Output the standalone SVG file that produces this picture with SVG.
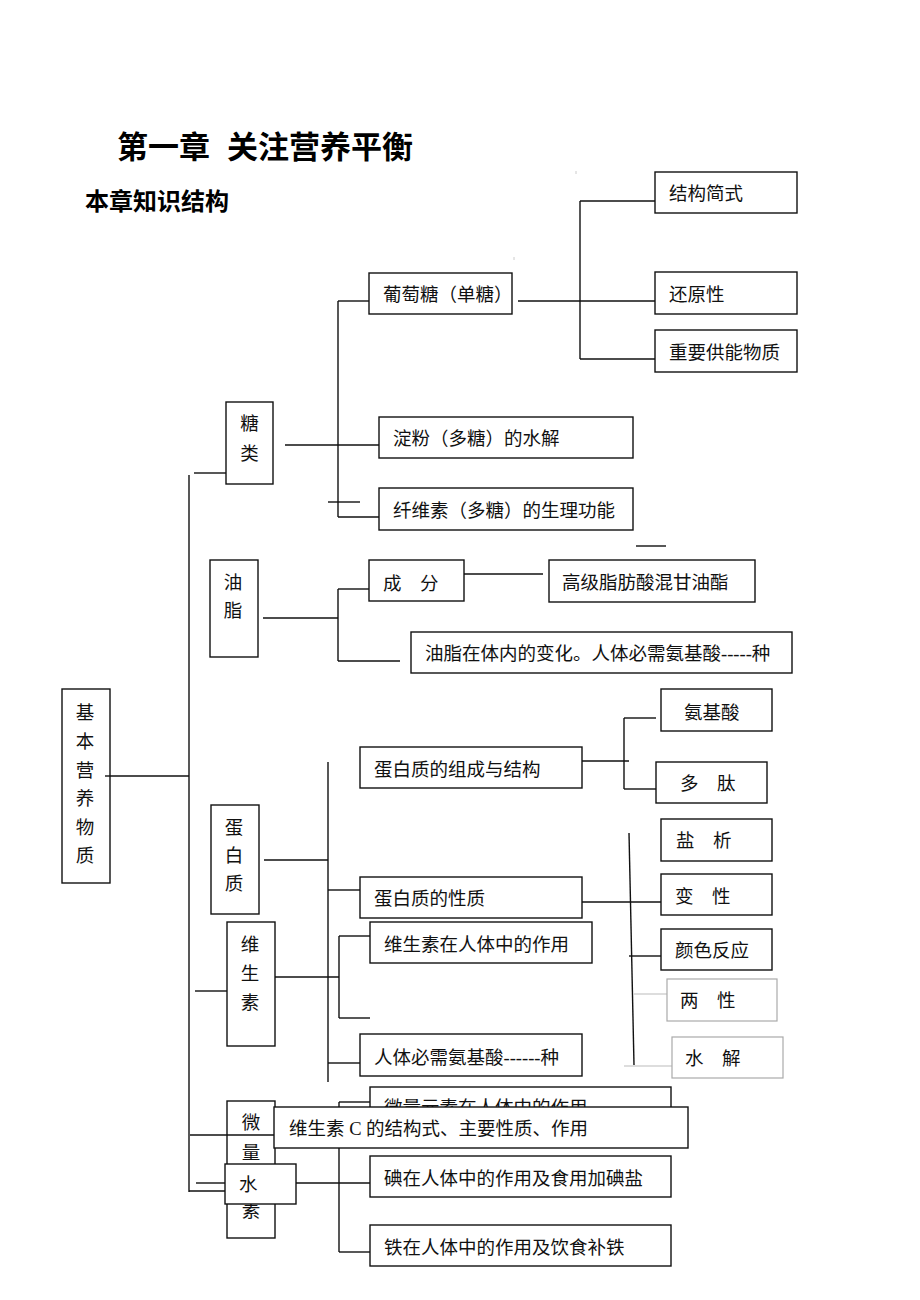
<svg xmlns="http://www.w3.org/2000/svg" width="920" height="1300" viewBox="0 0 920 1300">
<style>
.b{fill:#fff;stroke:#111;stroke-width:1.4}
.bn{fill:none;stroke:#111;stroke-width:1.4}
.bg{fill:#fff;stroke:#aaa;stroke-width:1.2}
.t{font-family:"Liberation Serif","Noto Sans CJK SC",serif;font-size:18.5px;fill:#111}
.tm{font-family:"Liberation Serif","Noto Sans CJK SC",serif;font-size:18.5px;fill:#111;text-anchor:middle}
.h1{font-family:"Liberation Sans","Noto Sans CJK SC",sans-serif;font-size:31px;font-weight:bold;fill:#000}
.h2{font-family:"Liberation Sans","Noto Sans CJK SC",sans-serif;font-size:24px;font-weight:bold;fill:#000}
#connectors line{stroke:#111;stroke-width:1.4}
#connectors line.g{stroke:#bbb;stroke-width:1.2}
</style>
<rect width="920" height="1300" fill="#fff"/>
<g id="title">
<text class="h1" y="158"><tspan x="117">第一章</tspan><tspan x="227">关注营养平衡</tspan></text>
<text class="h2" x="85" y="210">本章知识结构</text>
</g>
<g id="marks">
<line x1="576" y1="171" x2="576" y2="174" stroke="#ccc" stroke-width="1"/>
<line x1="514" y1="257" x2="514" y2="260" stroke="#ccc" stroke-width="1"/>
</g>
<g id="connectors">
<line x1="189" y1="475" x2="189" y2="1192"/>
<line x1="194" y1="473" x2="226" y2="473"/>
<line x1="105" y1="776" x2="189" y2="776"/>
<line x1="285" y1="445" x2="379" y2="445"/>
<line x1="338" y1="301" x2="338" y2="517"/>
<line x1="338" y1="301" x2="369" y2="301"/>
<line x1="338" y1="517" x2="379" y2="517"/>
<line x1="328" y1="502" x2="360" y2="502"/>
<line x1="518" y1="301" x2="655" y2="301"/>
<line x1="580" y1="201" x2="580" y2="359"/>
<line x1="580" y1="201" x2="655" y2="201"/>
<line x1="580" y1="359" x2="655" y2="359"/>
<line x1="636" y1="546" x2="666" y2="546"/>
<line x1="263" y1="618" x2="338" y2="618"/>
<line x1="338" y1="589" x2="338" y2="661"/>
<line x1="338" y1="589" x2="369" y2="589"/>
<line x1="338" y1="661" x2="400" y2="661"/>
<line x1="464" y1="574" x2="543" y2="574"/>
<line x1="582" y1="761" x2="629" y2="761"/>
<line x1="624" y1="718" x2="624" y2="789"/>
<line x1="624" y1="718" x2="656" y2="718"/>
<line x1="624" y1="789" x2="656" y2="789"/>
<line x1="328" y1="762" x2="328" y2="1082"/>
<line x1="264" y1="860" x2="328" y2="860"/>
<line x1="328" y1="890" x2="360" y2="890"/>
<line x1="328" y1="1063" x2="360" y2="1063"/>
<line x1="582" y1="902" x2="661" y2="902"/>
<line x1="629" y1="833" x2="634" y2="1065"/>
<line x1="629" y1="956" x2="661" y2="956"/>
<line class="g" x1="634" y1="994" x2="667" y2="994"/>
<line class="g" x1="624" y1="1066" x2="672" y2="1066"/>
<line x1="275" y1="977" x2="339" y2="977"/>
<line x1="339" y1="936" x2="339" y2="1018"/>
<line x1="339" y1="936" x2="370" y2="936"/>
<line x1="339" y1="1018" x2="370" y2="1018"/>
<line x1="195" y1="991" x2="227" y2="991"/>
<line x1="339" y1="1102" x2="339" y2="1252"/>
<line x1="339" y1="1102" x2="370" y2="1102"/>
<line x1="339" y1="1252" x2="370" y2="1252"/>
<line x1="190" y1="1135" x2="275" y2="1135"/>
<line x1="296" y1="1183" x2="370" y2="1183"/>
<line x1="196" y1="1183" x2="225" y2="1183"/>
<line x1="189" y1="1191" x2="225" y2="1191"/>
</g>
<g id="n-jgjs"><rect class="b" x="655" y="172" width="142" height="41"/><text class="t" x="669" y="200">结构简式</text></g>
<g id="n-hyx"><rect class="b" x="655" y="272" width="142" height="42"/><text class="t" x="669" y="301">还原性</text></g>
<g id="n-zygn"><rect class="b" x="655" y="330" width="142" height="42"/><text class="t" x="669" y="359">重要供能物质</text></g>
<g id="n-ptt"><rect class="b" x="369" y="273" width="143" height="41"/><text class="t" x="383" y="301">葡萄糖（单糖）</text></g>
<g id="n-df"><rect class="b" x="379" y="417" width="254" height="41"/><text class="t" x="393" y="445">淀粉（多糖）的水解</text></g>
<g id="n-xws"><rect class="b" x="379" y="488" width="254" height="42"/><text class="t" x="393" y="517">纤维素（多糖）的生理功能</text></g>
<g id="n-tl"><rect class="b" x="226" y="402" width="47" height="82"/><text class="tm"><tspan x="249.5" y="430">糖</tspan><tspan x="249.5" y="460">类</tspan></text></g>
<g id="n-yz"><rect class="b" x="210" y="560" width="48" height="97"/><text class="tm"><tspan x="233" y="589">油</tspan><tspan x="233" y="617">脂</tspan></text></g>
<g id="n-cf"><rect class="b" x="369" y="560" width="95" height="41"/><text class="t" x="383" y="590">成　分</text></g>
<g id="n-gjzf"><rect class="b" x="549" y="560" width="206" height="42"/><text class="t" x="562" y="589">高级脂肪酸混甘油酯</text></g>
<g id="n-yztn"><rect class="b" x="411" y="632" width="381" height="41"/><text class="t" x="425" y="660">油脂在体内的变化。人体必需氨基酸-----种</text></g>
<g id="n-ajs"><rect class="b" x="661" y="689" width="111" height="42"/><text class="t" x="684" y="719">氨基酸</text></g>
<g id="n-dbzzc"><rect class="b" x="360" y="747" width="222" height="41"/><text class="t" x="374" y="776">蛋白质的组成与结构</text></g>
<g id="n-dt"><rect class="b" x="656" y="762" width="111" height="41"/><text class="t" x="680" y="790">多　肽</text></g>
<g id="n-jbyy"><rect class="b" x="62" y="689" width="48" height="194"/><text class="tm"><tspan x="85" y="719">基</tspan><tspan x="85" y="748">本</tspan><tspan x="85" y="777">营</tspan><tspan x="85" y="805">养</tspan><tspan x="85" y="834">物</tspan><tspan x="85" y="862">质</tspan></text></g>
<line x1="105" y1="776" x2="110" y2="776" stroke="#111" stroke-width="1.4"/>
<g id="n-dbz"><rect class="b" x="211" y="805" width="48" height="109"/><text class="tm"><tspan x="234" y="834">蛋</tspan><tspan x="234" y="862">白</tspan><tspan x="234" y="890">质</tspan></text></g>
<g id="n-yx"><rect class="b" x="661" y="819" width="111" height="42"/><text class="t" x="676" y="847">盐　析</text></g>
<g id="n-dbzxz"><rect class="b" x="360" y="877" width="222" height="41"/><text class="t" x="374" y="905">蛋白质的性质</text></g>
<g id="n-bx"><rect class="b" x="661" y="874" width="111" height="41"/><text class="t" x="675" y="903">变　性</text></g>
<g id="n-yssy"><rect class="b" x="661" y="929" width="111" height="41"/><text class="t" x="675" y="957">颜色反应</text></g>
<g id="n-lx"><rect class="bg" x="667" y="979" width="110" height="42"/><text class="t" x="680" y="1007">两　性</text></g>
<g id="n-sj"><rect class="bg" x="672" y="1037" width="111" height="41"/><text class="t" x="685" y="1065">水　解</text></g>
<g id="n-wss"><rect class="b" x="227" y="922" width="48" height="124"/><text class="tm"><tspan x="250" y="951">维</tspan><tspan x="250" y="980">生</tspan><tspan x="250" y="1009">素</tspan></text></g>
<g id="n-wssrt"><rect class="b" x="370" y="922" width="222" height="41"/><text class="t" x="384" y="951">维生素在人体中的作用</text></g>
<g id="n-rtbx"><rect class="b" x="360" y="1034" width="222" height="42"/><text class="t" x="374" y="1064">人体必需氨基酸------种</text></g>
<g id="n-wlysrt"><rect class="b" x="370" y="1087" width="301" height="41"/><text class="t" x="384" y="1114">微量元素在人体中的作用</text></g>
<g id="n-wlys"><rect class="bn" x="227" y="1101" width="48" height="137"/><text class="tm"><tspan x="251" y="1129">微</tspan><tspan x="251" y="1159">量</tspan><tspan x="251" y="1217">素</tspan></text></g>
<g id="n-wssc"><rect class="b" x="274" y="1107" width="414" height="41"/><text class="t" x="289" y="1135" xml:space="preserve">维生素 C 的结构式、主要性质、作用</text></g>
<g id="n-dian"><rect class="b" x="370" y="1156" width="301" height="41"/><text class="t" x="384" y="1185">碘在人体中的作用及食用加碘盐</text></g>
<g id="n-tie"><rect class="b" x="370" y="1225" width="301" height="41"/><text class="t" x="384" y="1254">铁在人体中的作用及饮食补铁</text></g>
<g id="n-shui"><rect class="b" x="225" y="1164" width="71" height="40"/><text class="t" x="239" y="1191">水</text></g>
</svg>
